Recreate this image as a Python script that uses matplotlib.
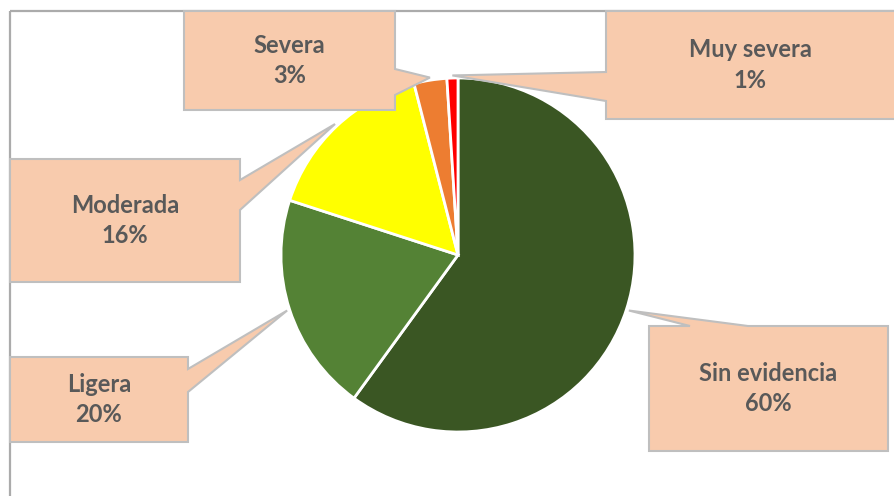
import numpy as np
import matplotlib
matplotlib.use("Agg")
import matplotlib.pyplot as plt
from matplotlib.patches import Polygon, Rectangle

# data
categories = ["Sin evidencia", "Ligera", "Moderada", "Severa", "Muy severa"]
percent = [60, 20, 16, 3, 1]
colors = ["#3A5623", "#548235", "#FFFF00", "#ED7D31", "#FF0000"]

# callout boxes in pixel coords: (x0, y0, x1, y1), pointer side, pointer base
BOXES = {
    "Sin evidencia": ((649, 326, 888, 451), "top", (690, 748)),
    "Ligera": ((10, 357, 188, 442), "right", (369, 392)),
    "Moderada": ((10, 159, 240, 282), "right", (180, 210)),
    "Severa": ((184, 11, 395, 110), "right", (69, 95)),
    "Muy severa": ((606, 11, 905, 119), "left", (72, 101)),
}

W, H = 894, 496
CX, CY, R = 458, 255, 177
TEXT = "#595959"


def callout_poly(box, side, base, tip):
    x0, y0, x1, y1 = box
    b0, b1 = base
    pts = [(x0, y0)]
    if side == "top":
        pts += [(b0, y0), tip, (b1, y0)]
    pts.append((x1, y0))
    if side == "right":
        pts += [(x1, b0), tip, (x1, b1)]
    pts.append((x1, y1))
    pts.append((x0, y1))
    if side == "left":
        pts += [(x0, b1), tip, (x0, b0)]
    return pts


fig = plt.figure(figsize=(W / 100, H / 100), dpi=100)
ax = fig.add_axes([0, 0, 1, 1])

# y axis runs downward (pixel coords), so startangle=-90 is 12 o'clock
# and counterclock=True shows up as clockwise on screen
wedges, _ = ax.pie(percent, colors=colors, startangle=-90, counterclock=True,
                   center=(CX, CY), radius=R,
                   wedgeprops=dict(edgecolor="white", linewidth=2.0))

ax.set_xlim(0, W)
ax.set_ylim(H, 0)
ax.set_aspect("equal")
ax.axis("off")

# chart area border (left and top visible)
ax.add_patch(Rectangle((10, 11), W + 20, H + 20, fill=False,
                       edgecolor="#ABABAB", linewidth=1.6, zorder=1))

for w, name, pct in zip(wedges, categories, percent):
    mid = np.deg2rad((w.theta1 + w.theta2) / 2)
    tip = (CX + R * 1.015 * np.cos(mid), CY + R * 1.015 * np.sin(mid))
    box, side, base = BOXES[name]
    ax.add_patch(Polygon(callout_poly(box, side, base, tip), closed=True,
                         facecolor="#F8CBAD", edgecolor="#BFBFBF",
                         linewidth=1.5, zorder=3))
    x0, y0, x1, y1 = box
    tx = (x0 + min(x1, W)) / 2
    ax.text(tx, (y0 + y1) / 2, f"{name}\n{pct}%", ha="center", va="center",
            fontsize=17, fontweight="bold", color=TEXT, family="Lato",
            linespacing=1.38, zorder=4)

fig.savefig("out.png", dpi=100)
